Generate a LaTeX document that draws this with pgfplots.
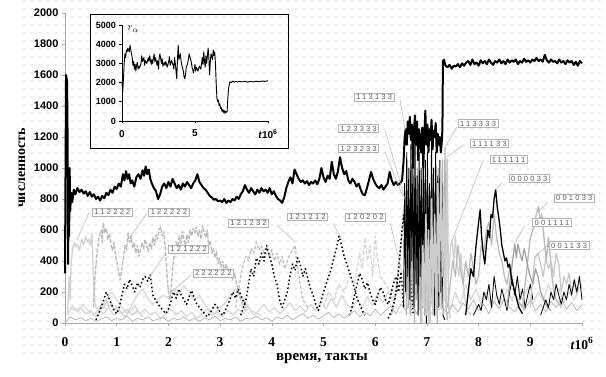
\documentclass[border=0pt]{standalone}
\usepackage{pgfplots}
\pgfplotsset{compat=1.18}
\usepackage{fontspec}
\setmainfont{Liberation Serif}
\setsansfont{Liberation Sans}
\newfontfamily\labfont[LetterSpace=30]{Liberation Sans}
\usetikzlibrary{patterns}
\pgfdeclarepatternformonly{bgdots}{\pgfqpoint{-1pt}{-1pt}}{\pgfqpoint{1pt}{1pt}}{\pgfqpoint{8pt}{8pt}}{\pgfpathcircle{\pgfqpoint{0pt}{0pt}}{0.6pt}\pgfusepath{fill}}
\tikzset{lab/.style={draw=gray!60, fill=white, line width=0.6pt, inner xsep=2pt, inner ysep=1.2pt, font=\labfont\fontsize{7.5}{8}\selectfont, text=black!65},
 lead/.style={gray!60, line width=0.5pt},
 bdot/.style={black, line width=1.5pt, dash pattern=on 1.5pt off 2.5pt},
 gdash/.style={gray!55, line width=1.3pt, dash pattern=on 4pt off 1.5pt}}
\begin{document}
\begin{tikzpicture}
\fill[pattern=bgdots, pattern color=gray!75] (-45pt,-35pt) rectangle (535pt,323pt);
\path[use as bounding box] (-65pt,-54pt) rectangle (541pt,323pt);
\begin{axis}[at={(0pt,0pt)}, anchor=south west, scale only axis, width=517pt, height=310pt,
 xmin=0, xmax=10, ymin=0, ymax=2000, axis lines=left,
 axis line style={-, gray!70, line width=0.8pt},
 xtick={0,...,10}, xticklabels={0,1,2,3,4,5,6,7,8,9,{\textit{t}10\textsuperscript{6}}},
 ytick={0,200,...,2000}, tick style={gray!70, line width=0.6pt}, tick align=outside, major tick length=3pt,
 /pgf/number format/assume math mode=true, /pgf/number format/1000 sep={},
 yticklabel style={font=\sffamily\bfseries\fontsize{11}{12}\selectfont},
 xticklabel style={font=\bfseries\fontsize{13.5}{14}\selectfont, yshift=-8pt},
 clip=false, every axis plot/.append style={line join=round}]
% light baseline
\addplot[gray!35, line width=1pt] coordinates {(0.05,60) (0.15,110) (0.25,70) (0.35,120) (0.45,80) (0.55,50) (0.65,90) (0.75,60) (0.85,100) (0.95,50) (1.05,80) (1.15,40) (1.25,70) (1.35,110) (1.45,60) (1.55,90) (1.65,50) (1.75,70) (1.85,30) (1.95,60) (2.05,90) (2.15,50) (2.25,80) (2.35,40) (2.45,70) (2.55,30) (2.65,60) (2.75,90) (2.85,50) (2.95,70) (3.05,40) (3.15,80) (3.25,50) (3.35,90) (3.45,60) (3.55,100) (3.65,50) (3.75,80) (3.85,120) (3.95,70) (4.05,100) (4.15,60) (4.25,90) (4.35,130) (4.45,80) (4.55,110) (4.65,70) (4.75,120) (4.85,80) (4.95,140) (5.05,90) (5.15,160) (5.25,100) (5.35,180) (5.45,120) (5.55,90) (5.65,150) (5.75,100) (5.85,170) (5.95,110) (6.05,190) (6.15,130) (6.25,200) (6.35,140) (6.45,220) (6.55,160) (6.65,250) (6.75,150) (6.85,300) (6.95,120) (7.05,250) (7.15,100) (7.25,200) (7.35,150) (7.45,90) (7.55,200) (7.65,120) (7.75,250) (7.85,150) (7.95,220) (8.05,120) (8.15,200) (8.25,100) (8.35,180) (8.45,120) (8.55,220) (8.65,140) (8.75,260) (8.85,150) (8.95,230) (9.05,120) (9.15,200) (9.25,140) (9.35,250) (9.45,160) (9.55,220) (9.65,130) (9.75,200) (9.85,150) (9.95,230)};
% 222222
\addplot[gray!30, line width=1.3pt] coordinates {(0.1,100) (0.2,80) (0.3,100) (0.4,60) (0.5,80) (0.6,40) (0.7,100) (0.8,150) (0.9,200) (1.0,150) (1.1,100) (1.2,60) (1.3,120) (1.4,180) (1.5,220) (1.6,160) (1.7,120) (1.8,150) (1.9,180) (2.0,160) (2.1,220) (2.2,180) (2.3,240) (2.4,200) (2.5,150) (2.6,180) (2.7,120) (2.8,80) (2.9,60) (3.0,100) (3.1,130) (3.2,180) (3.3,220) (3.4,170) (3.5,120) (3.6,80) (3.8,50)};
% 112222
\addplot[gray!35, line width=1.3pt] coordinates {(0.05,50) (0.08,300) (0.10,150) (0.12,400) (0.15,480) (0.18,520) (0.21,490) (0.24,510) (0.27,470) (0.30,500) (0.33,540) (0.36,500) (0.40,560) (0.43,520) (0.46,540) (0.49,500) (0.52,580) (0.55,300) (0.57,150) (0.60,100) (0.65,80) (0.70,120) (0.75,90) (0.80,150) (0.85,100) (0.90,130) (0.95,80) (1.00,110) (1.1,60) (1.2,90) (1.3,50) (1.4,80) (1.5,40)};
% 122222
\addplot[gdash] coordinates {(0.55,100) (0.58,300) (0.62,450) (0.66,560) (0.70,600) (0.72,520) (0.74,645) (0.77,580) (0.80,610) (0.83,540) (0.86,580) (0.89,500) (0.92,470) (0.95,520) (0.98,430) (1.01,380) (1.04,320) (1.07,280) (1.10,350) (1.13,420) (1.16,500) (1.19,470) (1.22,580) (1.25,520) (1.28,560) (1.31,480) (1.34,520) (1.37,450) (1.40,500) (1.43,430) (1.46,470) (1.49,520) (1.52,480) (1.55,540) (1.58,500) (1.61,460) (1.64,520) (1.67,480) (1.70,550) (1.73,500) (1.76,570) (1.79,540) (1.82,600) (1.85,620) (1.88,560) (1.91,590) (1.94,480) (1.97,320) (2.00,200) (2.03,150) (2.06,250) (2.09,380) (2.12,450) (2.15,520) (2.18,480) (2.21,560) (2.24,510) (2.27,590) (2.30,540) (2.33,500) (2.36,570) (2.39,520) (2.42,600) (2.45,560) (2.48,610) (2.51,580) (2.54,620) (2.57,560) (2.60,600) (2.63,540) (2.66,630) (2.69,590) (2.72,550) (2.75,600) (2.78,500) (2.81,530) (2.84,450) (2.87,480) (2.90,420) (2.93,460) (2.96,380) (2.99,420) (3.02,360) (3.05,400) (3.08,330) (3.12,380) (3.16,300) (3.20,350) (3.24,280) (3.28,320) (3.32,250) (3.36,200) (3.40,150) (3.45,100) (3.50,80)};
% 121232
\addplot[gray!55, line width=1.2pt, dash pattern=on 3pt off 2pt] coordinates {(3.3,100) (3.35,200) (3.4,300) (3.45,380) (3.5,430) (3.55,400) (3.6,480) (3.65,450) (3.7,520) (3.75,470) (3.8,500) (3.85,440) (3.9,490) (3.95,420) (4.0,470) (4.05,400) (4.1,450) (4.15,380) (4.2,430) (4.25,350) (4.3,400) (4.35,440) (4.4,470) (4.45,500) (4.5,350) (4.55,250) (4.6,150) (4.7,100)};
% light gray 5-6.4
\addplot[gray!35, line width=1.2pt, dash pattern=on 4pt off 2pt] coordinates {(5.0,100) (5.1,200) (5.2,150) (5.3,250) (5.4,200) (5.5,300) (5.6,250) (5.7,450) (5.75,350) (5.8,550) (5.85,400) (5.9,500) (5.95,300) (6.0,560) (6.05,400) (6.1,300) (6.2,250) (6.3,200) (6.4,150)};
% 121222
\addplot[bdot] coordinates {(0.60,20) (0.65,60) (0.70,100) (0.75,150) (0.80,200) (0.85,160) (0.90,120) (0.95,80) (1.00,60) (1.05,100) (1.10,180) (1.15,250) (1.20,220) (1.25,280) (1.30,240) (1.35,200) (1.40,260) (1.45,230) (1.50,280) (1.55,300) (1.60,270) (1.65,310) (1.70,180) (1.75,150) (1.80,120) (1.85,100) (1.90,80) (1.95,60) (2.00,90) (2.05,140) (2.10,200) (2.15,160) (2.20,220) (2.25,180) (2.30,150) (2.35,120) (2.40,170) (2.45,210) (2.50,160) (2.55,120) (2.60,100) (2.65,80) (2.70,60) (2.75,40) (2.80,60) (2.85,90) (2.90,120) (2.95,100) (3.00,70) (3.05,50) (3.10,80) (3.15,120) (3.20,160) (3.25,200) (3.30,160) (3.35,220) (3.40,180) (3.45,140) (3.50,100)};
% 121212
\addplot[bdot] coordinates {(3.40,50) (3.45,100) (3.50,150) (3.55,250) (3.60,350) (3.65,300) (3.70,420) (3.75,380) (3.80,450) (3.85,400) (3.90,500) (3.95,440) (4.00,380) (4.05,300) (4.10,250) (4.15,150) (4.20,100) (4.25,150) (4.30,200) (4.35,300) (4.40,380) (4.45,340) (4.50,420) (4.55,380) (4.60,300) (4.65,350) (4.70,280) (4.75,220) (4.80,180) (4.85,120) (4.90,80) (4.95,140) (5.00,200) (5.05,250) (5.10,300) (5.15,350) (5.20,420) (5.25,480) (5.30,560) (5.35,500) (5.40,430) (5.45,380) (5.50,330) (5.55,280) (5.60,220) (5.65,160) (5.70,120) (5.75,80) (5.80,50)};
% 120202
\addplot[bdot] coordinates {(5.50,50) (5.55,100) (5.60,180) (5.65,250) (5.70,320) (5.75,280) (5.80,220) (5.85,260) (5.90,200) (5.95,150) (6.00,120) (6.05,180) (6.10,230) (6.15,200) (6.20,150) (6.25,120) (6.30,180) (6.35,250) (6.40,300) (6.45,200) (6.50,330) (6.55,100)};
% dark baseline
\addplot[gray!60, line width=0.7pt] coordinates {(0.0,0) (0.1,40) (0.2,20) (0.3,35) (0.4,15) (0.5,30) (0.6,10) (0.7,25) (0.8,40) (0.9,15) (1.0,30) (1.1,20) (1.2,45) (1.3,10) (1.4,30) (1.5,20) (1.6,40) (1.7,15) (1.8,25) (1.9,35) (2.0,10) (2.1,30) (2.2,20) (2.3,40) (2.4,15) (2.5,30) (2.6,10) (2.7,35) (2.8,20) (2.9,45) (3.0,15) (3.1,30) (3.2,20) (3.3,40) (3.4,10) (3.5,30) (3.6,25) (3.7,45) (3.8,20) (3.9,35) (4.0,10) (4.1,40) (4.2,25) (4.3,50) (4.4,20) (4.5,40) (4.6,60) (4.7,30) (4.8,50) (4.9,25) (5.0,45) (5.1,70) (5.2,35) (5.3,60) (5.4,30) (5.5,55) (5.6,80) (5.7,40) (5.8,70) (5.9,45) (6.0,90) (6.1,50) (6.2,80) (6.3,110) (6.4,60) (6.5,120) (6.6,80) (6.7,150) (6.8,60) (6.9,120) (7.0,70) (7.1,140) (7.2,80) (7.3,100) (7.4,60) (7.5,120) (7.6,70) (7.7,130) (7.8,90) (7.9,150) (8.0,80) (8.1,120) (8.2,60) (8.3,140) (8.4,90) (8.5,160) (8.6,100) (8.7,70) (8.8,130) (8.9,90) (9.0,150) (9.1,80) (9.2,120) (9.3,70) (9.4,140) (9.5,100) (9.6,160) (9.7,90) (9.8,130) (9.9,80) (10.0,120)};
% 123333 / 123233
\addplot[gray!70, line width=1.4pt, dash pattern=on 1.5pt off 1.5pt] coordinates {(6.30,50) (6.35,100) (6.40,200) (6.45,350) (6.50,500) (6.53,650) (6.56,760) (6.58,600) (6.60,700) (6.62,450) (6.65,300) (6.68,150) (6.72,50)};
\addplot[bdot] coordinates {(6.25,30) (6.32,80) (6.38,150) (6.44,300) (6.48,450) (6.52,600) (6.55,700) (6.57,560) (6.60,650) (6.63,500) (6.66,800) (6.68,450) (6.70,200) (6.74,50)};
% 113333
\addplot[gray!60, line width=1.2pt] coordinates {(6.60,50) (6.62,700) (6.64,100) (6.66,800) (6.68,50) (6.70,900) (6.72,200) (6.74,750) (6.76,0) (6.78,850) (6.80,150) (6.82,1000) (6.84,100) (6.86,700) (6.88,0) (6.90,900) (6.92,250) (6.94,800) (6.96,50) (6.98,950) (7.00,100) (7.02,700) (7.04,0) (7.06,850) (7.08,200) (7.10,950) (7.12,50) (7.14,800) (7.16,150) (7.18,900) (7.20,0) (7.22,1000) (7.24,200) (7.26,950) (7.28,100) (7.30,1050) (7.32,300) (7.35,1130) (7.37,100) (7.40,20)};
% 113133
\addplot[black, line width=0.9pt] coordinates {(6.55,100) (6.57,900) (6.59,200) (6.61,1100) (6.63,300) (6.65,1000) (6.67,150) (6.69,1150) (6.71,400) (6.73,1050) (6.75,100) (6.77,1200) (6.79,250) (6.81,950) (6.83,50) (6.85,1100) (6.87,300) (6.89,1000) (6.91,100) (6.93,1150) (6.95,200) (6.97,1050) (6.99,0) (7.01,1100) (7.03,350) (7.05,900) (7.07,100) (7.09,1200) (7.11,200) (7.13,1000) (7.15,50) (7.17,1100) (7.19,300) (7.21,950) (7.23,100) (7.25,1050) (7.27,200) (7.29,900) (7.31,50) (7.35,20)};
% 111133
\addplot[gray!40, line width=1.6pt] coordinates {(6.90,0) (6.92,500) (6.95,100) (6.98,700) (7.00,50) (7.03,600) (7.06,0) (7.09,800) (7.12,100) (7.15,700) (7.18,50) (7.21,900) (7.24,200) (7.27,1000) (7.30,300) (7.33,800) (7.36,150) (7.39,1060) (7.42,100) (7.45,30)};
% 111111
\addplot[gray!35, line width=1.3pt] coordinates {(7.30,50) (7.35,300) (7.40,450) (7.43,350) (7.46,500) (7.49,535) (7.52,380) (7.55,560) (7.58,400) (7.62,300) (7.66,450) (7.70,250) (7.74,150) (7.78,80) (7.85,50)};
% right mid gray
\addplot[gray!55, line width=1.2pt] coordinates {(7.40,100) (7.45,250) (7.50,400) (7.55,300) (7.60,500) (7.65,350) (7.70,250) (7.75,400) (7.80,300) (7.85,450) (7.90,350) (7.95,250) (8.00,300) (8.05,500) (8.10,450) (8.15,600) (8.20,650) (8.25,500) (8.30,700) (8.35,550) (8.40,450) (8.45,400) (8.50,300) (8.55,250) (8.60,350) (8.65,300) (8.70,200) (8.80,120) (8.90,80)};
% right black low
\addplot[black, line width=0.8pt] coordinates {(7.9,50) (8.0,120) (8.05,80) (8.1,200) (8.15,150) (8.2,250) (8.25,100) (8.3,300) (8.35,180) (8.4,120) (8.45,220) (8.5,150) (8.55,80) (8.6,200) (8.65,280) (8.7,180) (8.75,300) (8.8,150) (8.85,220) (8.9,100) (8.95,180) (9.0,250) (9.05,150)};
% 001033
\addplot[gray!55, line width=1.3pt] coordinates {(8.85,100) (8.90,250) (8.95,400) (9.00,550) (9.05,600) (9.10,680) (9.13,720) (9.16,750) (9.19,650) (9.22,700) (9.25,600) (9.28,500) (9.31,400) (9.35,550) (9.38,450) (9.42,300) (9.46,200) (9.50,150) (9.6,100)};
% 001133
\addplot[gray!45, line width=1.2pt] coordinates {(9.00,100) (9.05,300) (9.09,425) (9.15,450) (9.20,380) (9.25,300) (9.30,420) (9.35,350) (9.40,400) (9.45,300) (9.50,450) (9.55,380) (9.60,200) (9.65,300) (9.70,250) (9.75,320) (9.80,200) (9.85,260) (9.90,180) (9.95,280) (10.00,220)};
% 001111
\addplot[gray!75, line width=1.2pt] coordinates {(8.55,100) (8.60,250) (8.65,380) (8.70,510) (8.73,420) (8.76,510) (8.80,450) (8.84,400) (8.88,480) (8.92,420) (8.96,350) (9.00,300) (9.05,250) (9.10,350) (9.15,300) (9.20,200) (9.30,120) (9.40,80)};
% right dark tail
\addplot[black, line width=0.8pt] coordinates {(9.2,50) (9.3,150) (9.35,100) (9.4,200) (9.45,150) (9.5,250) (9.55,180) (9.6,120) (9.65,200) (9.7,150) (9.75,250) (9.8,180) (9.85,280) (9.9,200) (9.95,300) (10,150)};
% 000033
\addplot[black, line width=1.3pt] coordinates {(7.75,50) (7.80,200) (7.85,350) (7.90,300) (7.95,500) (8.00,650) (8.03,730) (8.06,550) (8.09,450) (8.12,380) (8.15,500) (8.18,600) (8.21,550) (8.24,700) (8.27,680) (8.30,800) (8.33,860) (8.36,750) (8.39,680) (8.42,600) (8.45,500) (8.48,450) (8.51,400) (8.54,420) (8.57,360) (8.60,380) (8.63,300) (8.66,250) (8.70,200) (8.74,150) (8.78,100) (8.85,60)};
% total (black thick)
\addplot[black, line width=2pt] coordinates {(0.00,320) (0.02,1600) (0.04,1560) (0.05,1200) (0.06,380) (0.07,900) (0.08,560) (0.09,1000) (0.10,720) (0.12,840) (0.14,780) (0.17,860) (0.20,830) (0.24,870) (0.28,845) (0.32,860) (0.36,835) (0.40,850) (0.44,820) (0.48,845) (0.52,815) (0.56,830) (0.60,800) (0.64,815) (0.68,790) (0.72,820) (0.76,805) (0.80,840) (0.84,825) (0.88,860) (0.92,840) (0.96,880) (1.00,865) (1.04,900) (1.08,880) (1.12,960) (1.15,920) (1.18,980) (1.21,930) (1.24,960) (1.27,900) (1.30,920) (1.34,880) (1.38,940) (1.42,960) (1.46,930) (1.50,985) (1.53,950) (1.56,1010) (1.59,960) (1.62,990) (1.65,930) (1.68,900) (1.72,870) (1.76,850) (1.80,800) (1.84,830) (1.88,880) (1.92,900) (1.96,870) (2.00,910) (2.04,880) (2.08,930) (2.12,900) (2.16,870) (2.20,890) (2.24,860) (2.28,900) (2.32,880) (2.36,910) (2.40,890) (2.44,870) (2.48,900) (2.52,920) (2.56,960) (2.60,910) (2.64,890) (2.68,870) (2.72,860) (2.76,840) (2.80,820) (2.84,810) (2.88,795) (2.92,800) (2.96,785) (3.00,790) (3.04,780) (3.08,800) (3.12,775) (3.16,790) (3.20,780) (3.24,800) (3.28,790) (3.32,815) (3.36,800) (3.40,830) (3.44,850) (3.48,890) (3.52,860) (3.56,840) (3.60,870) (3.64,850) (3.68,830) (3.72,860) (3.76,840) (3.80,870) (3.84,850) (3.88,860) (3.92,840) (3.96,870) (4.00,830) (4.04,850) (4.08,820) (4.12,800) (4.16,790) (4.20,775) (4.24,810) (4.28,870) (4.32,910) (4.36,940) (4.40,900) (4.44,990) (4.48,960) (4.52,930) (4.56,910) (4.60,920) (4.64,900) (4.68,915) (4.72,890) (4.76,910) (4.80,900) (4.84,920) (4.88,895) (4.92,930) (4.96,1000) (5.00,940) (5.04,910) (5.08,950) (5.12,930) (5.16,1040) (5.20,960) (5.24,930) (5.28,980) (5.32,1070) (5.36,1000) (5.40,960) (5.44,980) (5.48,920) (5.52,900) (5.56,930) (5.60,910) (5.64,880) (5.68,900) (5.72,860) (5.76,830) (5.80,825) (5.84,870) (5.88,920) (5.92,975) (5.96,930) (6.00,900) (6.04,880) (6.08,870) (6.12,890) (6.16,860) (6.20,880) (6.24,900) (6.28,975) (6.32,920) (6.36,890) (6.40,910) (6.44,890) (6.48,900) (6.52,920) (6.55,1050) (6.57,1200) (6.59,1250) (6.61,1150) (6.63,1300) (6.65,1220) (6.67,1330) (6.69,1180) (6.71,1280) (6.73,1000) (6.75,1250) (6.77,1340) (6.79,1150) (6.81,1300) (6.83,1050) (6.85,1250) (6.87,1180) (6.89,1100) (6.91,1260) (6.93,1000) (6.95,1200) (6.97,1370) (6.99,1150) (7.01,1280) (7.03,1100) (7.05,1250) (7.07,1180) (7.09,1310) (7.11,1120) (7.13,1240) (7.15,1200) (7.17,1290) (7.19,1100) (7.21,1220) (7.23,1150) (7.25,1200) (7.27,1100) (7.29,1180) (7.30,1250) (7.31,1690) (7.33,1700) (7.36,1660) (7.40,1650) (7.44,1665) (7.48,1640) (7.52,1660) (7.56,1655) (7.60,1670) (7.64,1650) (7.68,1675) (7.72,1660) (7.76,1680) (7.80,1690) (7.84,1665) (7.88,1700) (7.92,1670) (7.96,1680) (8.00,1660) (8.04,1695) (8.08,1675) (8.12,1690) (8.16,1670) (8.20,1700) (8.24,1680) (8.28,1665) (8.32,1690) (8.36,1680) (8.40,1700) (8.44,1675) (8.48,1690) (8.52,1670) (8.56,1700) (8.60,1680) (8.64,1695) (8.68,1685) (8.72,1700) (8.76,1670) (8.80,1690) (8.84,1680) (8.88,1705) (8.92,1685) (8.96,1695) (9.00,1680) (9.04,1700) (9.08,1690) (9.12,1710) (9.16,1690) (9.20,1700) (9.24,1685) (9.28,1730) (9.32,1695) (9.36,1680) (9.40,1700) (9.44,1685) (9.48,1690) (9.52,1675) (9.56,1700) (9.60,1680) (9.64,1690) (9.68,1670) (9.72,1695) (9.76,1680) (9.80,1690) (9.84,1665) (9.88,1685) (9.92,1660) (9.96,1690) (10.00,1675)};
% leaders
\draw[lead] (axis cs:6.48,1438) -- (axis cs:6.58,1245);
\draw[lead] (axis cs:6.19,1245) -- (axis cs:6.58,793);
\draw[lead] (axis cs:6.19,1103) -- (axis cs:6.54,813);
\draw[lead] (axis cs:7.58,1264) -- (axis cs:7.35,1135);
\draw[lead] (axis cs:7.70,1148) -- (axis cs:7.39,1071);
\draw[lead] (axis cs:8.09,1051) -- (axis cs:7.49,535);
\draw[lead] (axis cs:8.45,903) -- (axis cs:8.32,858);
\draw[lead] (axis cs:9.34,780) -- (axis cs:9.15,716);
\draw[lead] (axis cs:8.90,632) -- (axis cs:8.70,516);
\draw[lead] (axis cs:9.34,503) -- (axis cs:9.09,426);
\draw[lead] (axis cs:0.46,709) -- (axis cs:0.23,535);
\draw[lead] (axis cs:1.59,709) -- (axis cs:1.26,555);
\draw[lead] (axis cs:1.95,452) -- (axis cs:1.64,300);
\draw[lead] (axis cs:2.44,310) -- (axis cs:2.03,194);
\draw[lead] (axis cs:4.10,632) -- (axis cs:4.45,522);
\draw[lead] (axis cs:5.18,645) -- (axis cs:5.36,535);
\draw[lead] (axis cs:6.29,645) -- (axis cs:6.52,322);
% labels
\node[lab] at (axis cs:5.98,1458) {113133};
\node[lab] at (axis cs:5.68,1255) {123333};
\node[lab] at (axis cs:5.68,1126) {123233};
\node[lab] at (axis cs:7.99,1287) {113333};
\node[lab] at (axis cs:8.21,1158) {111133};
\node[lab] at (axis cs:8.58,1055) {111111};
\node[lab] at (axis cs:8.98,932) {000033};
\node[lab] at (axis cs:9.85,806) {001033};
\node[lab] at (axis cs:9.42,648) {001111};
\node[lab] at (axis cs:9.75,500) {001133};
\node[lab] at (axis cs:0.92,716) {112222};
\node[lab] at (axis cs:2.01,716) {122222};
\node[lab] at (axis cs:2.39,477) {121222};
\node[lab] at (axis cs:2.87,322) {222222};
\node[lab] at (axis cs:3.55,645) {121232};
\node[lab] at (axis cs:4.69,684) {121212};
\node[lab] at (axis cs:5.81,684) {120202};
\end{axis}
% inset
\begin{axis}[at={(57pt,202pt)}, anchor=south west, scale only axis, width=146pt, height=96pt,
 xmin=0, xmax=10, ymin=0, ymax=5000, axis lines=left,
 axis line style={-, black, line width=0.7pt},
 xtick={0,5,10}, xticklabels={0,5,{\textit{t}10\textsuperscript{6}}},
 ytick={0,1000,...,5000}, tick style={black, line width=0.6pt}, tick align=outside, major tick length=2.5pt,
 /pgf/number format/assume math mode=true, /pgf/number format/1000 sep={},
 yticklabel style={font=\sffamily\bfseries\fontsize{9}{10}\selectfont},
 xticklabel style={font=\sffamily\bfseries\fontsize{10}{11}\selectfont, yshift=-3pt},
 clip=false]
\addplot[black, line width=0.9pt, line join=round] coordinates {(0.00,2000) (0.05,1500) (0.10,2200) (0.15,3000) (0.20,3500) (0.25,3300) (0.30,3700) (0.35,3600) (0.40,3800) (0.50,3600) (0.55,3950) (0.60,3700) (0.70,3300) (0.75,2900) (0.80,3100) (0.85,2700) (0.90,2950) (0.95,2600) (1.00,2900) (1.05,3050) (1.10,2700) (1.15,2850) (1.20,2750) (1.30,3000) (1.35,3400) (1.40,3100) (1.50,3300) (1.55,2900) (1.60,3150) (1.70,3000) (1.80,3300) (1.85,3100) (1.90,3400) (2.00,2950) (2.05,3200) (2.10,3000) (2.20,3500) (2.25,3100) (2.30,3300) (2.40,2900) (2.45,3150) (2.50,2700) (2.55,3350) (2.60,3500) (2.70,3000) (2.75,3250) (2.80,2850) (2.90,3050) (2.95,2900) (3.00,3100) (3.10,2800) (3.20,3100) (3.25,3350) (3.30,2900) (3.40,3150) (3.50,2900) (3.55,2700) (3.60,3300) (3.65,3000) (3.70,2600) (3.75,2200) (3.80,3200) (3.85,3950) (3.90,3200) (4.00,3500) (4.05,3100) (4.10,2900) (4.20,2600) (4.25,2300) (4.30,2200) (4.35,2400) (4.40,2800) (4.50,3000) (4.55,3250) (4.60,3500) (4.70,3200) (4.75,3050) (4.80,2800) (4.90,2500) (5.00,2950) (5.05,2600) (5.10,2800) (5.20,2600) (5.30,2850) (5.40,2700) (5.50,3300) (5.55,2950) (5.60,3600) (5.65,3100) (5.70,2800) (5.75,3400) (5.80,3000) (5.90,3800) (5.95,3300) (6.00,2400) (6.05,3100) (6.10,3500) (6.20,3200) (6.25,3700) (6.30,3400) (6.35,3600) (6.40,3000) (6.45,2000) (6.50,1200) (6.55,1000) (6.60,1100) (6.65,800) (6.70,900) (6.75,650) (6.80,700) (6.85,500) (6.90,600) (6.95,450) (7.00,550) (7.05,400) (7.10,500) (7.15,450) (7.20,500) (7.25,1200) (7.30,1700) (7.35,1900) (7.40,2050) (7.50,2000) (7.60,2080) (7.70,2020) (7.80,2070) (7.90,2030) (8.00,2060) (8.20,2040) (8.40,2070) (8.60,2020) (8.80,2060) (9.00,2040) (9.20,2070) (9.40,2050) (9.60,2080) (9.80,2060) (10.00,2100)};
\node[anchor=west, font=\fontsize{11}{12}\selectfont] at (axis cs:0.15,4800) {$r_{\alpha}$};
\end{axis}
\draw[black, line width=0.8pt] (25pt,175pt) rectangle (223pt,309pt);
\node[rotate=90, font=\bfseries\fontsize{14}{16}\selectfont] at (-43pt,155pt) {численность};
\node[font=\bfseries\fontsize{15}{16}\selectfont] at (257pt,-36pt) {время, такты};
\end{tikzpicture}
\end{document}
